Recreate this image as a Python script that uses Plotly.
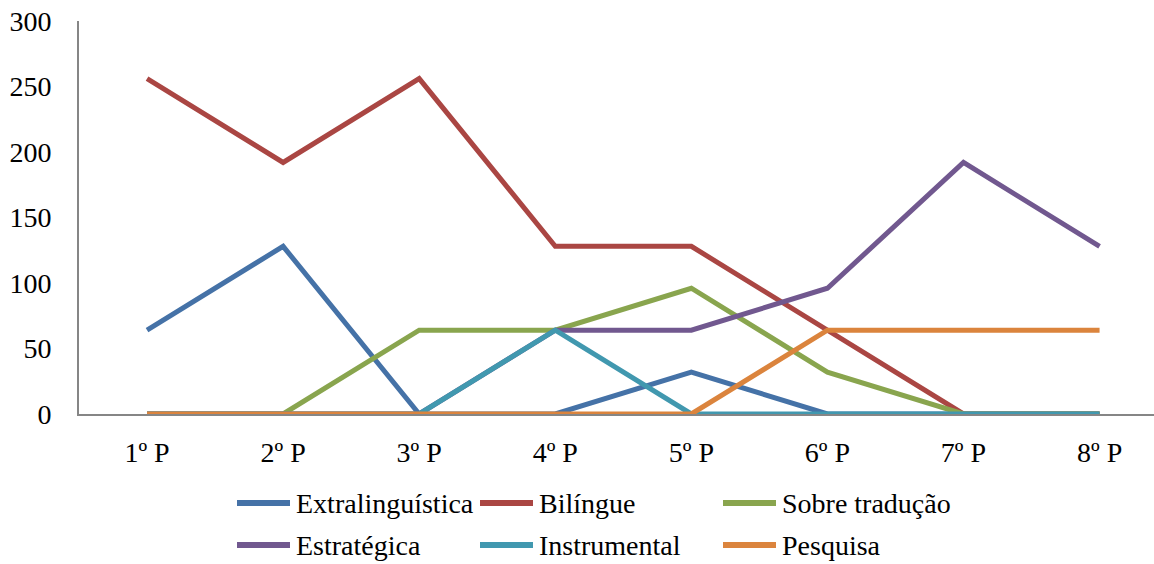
import plotly.graph_objects as go

periods = ["1º P", "2º P", "3º P", "4º P", "5º P", "6º P", "7º P", "8º P"]

extralinguistica = [64, 128, 0, 0, 32, 0, 0, 0]
bilingue = [256, 192, 256, 128, 128, 64, 0, 0]
sobre_traducao = [0, 0, 64, 64, 96, 32, 0, 0]
estrategica = [0, 0, 0, 64, 64, 96, 192, 128]
instrumental = [0, 0, 0, 64, 0, 0, 0, 0]
pesquisa = [0, 0, 0, 0, 0, 64, 64, 64]

series = [
    ("Extralinguística", extralinguistica, "#4572A7"),
    ("Bilíngue", bilingue, "#AA4643"),
    ("Sobre tradução", sobre_traducao, "#89A54E"),
    ("Estratégica", estrategica, "#71588F"),
    ("Instrumental", instrumental, "#4198AF"),
    ("Pesquisa", pesquisa, "#DB843D"),
]

FONT = "Liberation Serif"
W, H = 1154, 564
ML, MR, MT, MB = 79, 0, 21, 150
PW, PH = W - ML - MR, H - MT - MB


def px_x(px):
    return (px - ML) / PW


def px_y(py):
    return (H - MB - py) / PH


fig = go.Figure()
for name, vals, color in series:
    fig.add_trace(go.Scatter(
        x=list(range(len(periods))), y=vals, name=name, mode="lines",
        line=dict(color=color, width=5), showlegend=False,
    ))

# legend: two rows of three entries, drawn in paper coordinates
col_x = [237, 480, 723]
row_y = [503, 545]
for i, (name, _, color) in enumerate(series):
    cx = col_x[i % 3]
    cy = row_y[i // 3]
    fig.add_shape(
        type="line", xref="paper", yref="paper",
        x0=px_x(cx), x1=px_x(cx + 53), y0=px_y(cy), y1=px_y(cy),
        line=dict(color=color, width=6),
    )
    fig.add_annotation(
        xref="paper", yref="paper", x=px_x(cx + 57), y=px_y(cy),
        text=name, showarrow=False, xanchor="left", yanchor="middle",
        font=dict(family=FONT, size=28, color="black"),
    )

fig.update_layout(
    width=W, height=H,
    margin=dict(l=ML, r=MR, t=MT, b=MB, autoexpand=False),
    paper_bgcolor="white", plot_bgcolor="white",
    font=dict(family=FONT, size=28, color="black"),
    showlegend=False,
)
fig.update_xaxes(
    range=[-0.5, 7.4], tickmode="array", tickvals=list(range(len(periods))),
    ticktext=periods, showgrid=False, zeroline=False,
    showline=True, linecolor="#868686", linewidth=2, ticks="",
    ticklabelstandoff=12, fixedrange=True,
)
fig.update_yaxes(
    range=[0, 300], tickvals=[0, 50, 100, 150, 200, 250, 300],
    showgrid=False, zeroline=False, showline=True, linecolor="#868686",
    linewidth=2, ticks="", ticklabelstandoff=20, fixedrange=True,
)

fig.write_html("out.html")
